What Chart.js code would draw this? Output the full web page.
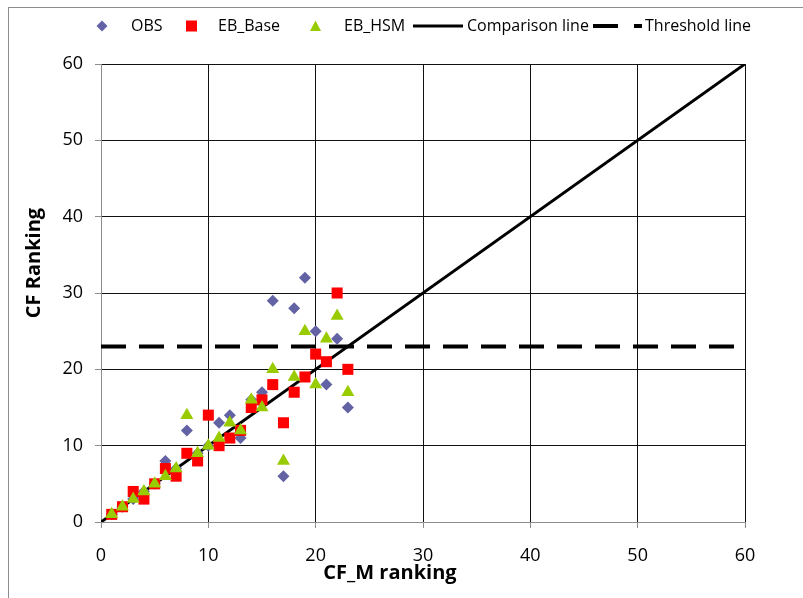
<!DOCTYPE html>
<html>
<head>
<meta charset="utf-8">
<title>CF Ranking</title>
<script src="https://cdn.jsdelivr.net/npm/chart.js@4.4.0/dist/chart.umd.min.js"></script>
<style>
  html, body { margin: 0; padding: 0; background: #fff; }
  #wrap { width: 803px; height: 598px; }
</style>
</head>
<body>
<div id="wrap"><canvas id="cfChart" width="803" height="598"></canvas></div>
<script>
// CF_M ranking (x) for every site
const cfmRank = [1, 2, 3, 4, 5, 6, 7, 8, 9, 10, 11, 12, 13, 14, 15, 16, 17, 18, 19, 20, 21, 22, 23];
// CF ranking per method (y)
const obsRank  = [1, 2, 3, 4, 5, 8, 7, 12, 9, 10, 13, 14, 11, 16, 17, 29, 6, 28, 32, 25, 18, 24, 15];
const baseRank = [1, 2, 4, 3, 5, 7, 6, 9, 8, 14, 10, 11, 12, 15, 16, 18, 13, 17, 19, 22, 21, 30, 20];
const hsmRank  = [1, 2, 3, 4, 5, 6, 7, 14, 9, 10, 11, 13, 12, 16, 15, 20, 8, 19, 25, 18, 24, 27, 17];

// reference lines
const comparisonX = [0, 60];
const comparisonY = [0, 60];
const thresholdX = [0, 60];
const thresholdValue = 23;

// axis ticks
const tickValues = [0, 10, 20, 30, 40, 50, 60];

const seriesNames = ['OBS', 'EB_Base', 'EB_HSM', 'Comparison line', 'Threshold line'];

const toPoints = (xs, ys) => xs.map((x, i) => ({ x: x, y: ys[i] }));

Chart.defaults.font.family = '"Open Sans", "DejaVu Sans", sans-serif';
Chart.defaults.color = '#000';

// legend, axis titles and outer frame drawn on the canvas
const decorations = {
    id: 'decorations',
    beforeDraw(chart) {
        const ctx = chart.ctx;
        ctx.save();
        ctx.fillStyle = '#fff';
        ctx.fillRect(0, 0, chart.width, chart.height);
        ctx.strokeStyle = '#8c8c8c';
        ctx.lineWidth = 1;
        ctx.strokeRect(8.5, 7.5, 1000, 1000);
        ctx.restore();
    },
    afterDraw(chart) {
        const ctx = chart.ctx;
        const ds = chart.data.datasets;
        const y = 26;
        ctx.save();
        ctx.font = '16px "Open Sans", sans-serif';
        ctx.textBaseline = 'middle';
        ctx.textAlign = 'left';

        // OBS diamond
        ctx.fillStyle = ds[0].backgroundColor;
        ctx.beginPath();
        ctx.moveTo(102, y - 5.5); ctx.lineTo(107.5, y); ctx.lineTo(102, y + 5.5); ctx.lineTo(96.5, y);
        ctx.closePath(); ctx.fill();
        ctx.fillStyle = '#000';
        ctx.fillText(ds[0].label, 131, y);

        // EB_Base square
        ctx.fillStyle = ds[1].backgroundColor;
        ctx.fillRect(186, y - 5.5, 11, 11);
        ctx.fillStyle = '#000';
        ctx.fillText(ds[1].label, 218, y);

        // EB_HSM triangle
        ctx.fillStyle = ds[2].backgroundColor;
        ctx.beginPath();
        ctx.moveTo(315.5, y - 5.5); ctx.lineTo(321, y + 5); ctx.lineTo(310, y + 5);
        ctx.closePath(); ctx.fill();
        ctx.fillStyle = '#000';
        ctx.fillText(ds[2].label, 344, y);

        // comparison line
        ctx.strokeStyle = ds[3].borderColor;
        ctx.lineWidth = 3;
        ctx.beginPath(); ctx.moveTo(413, y); ctx.lineTo(463, y); ctx.stroke();
        ctx.fillText(ds[3].label, 467, y);

        // threshold line
        ctx.lineWidth = 4;
        ctx.beginPath(); ctx.moveTo(593, y); ctx.lineTo(618, y); ctx.stroke();
        ctx.beginPath(); ctx.moveTo(634, y); ctx.lineTo(642, y); ctx.stroke();
        ctx.fillText(ds[4].label, 645, y);

        // axis titles
        ctx.font = 'bold 20px "Open Sans", sans-serif';
        ctx.textAlign = 'center';
        ctx.textBaseline = 'alphabetic';
        ctx.fillText('CF_M ranking', 390, 579);
        ctx.translate(40, 263);
        ctx.rotate(-Math.PI / 2);
        ctx.fillText('CF Ranking', 0, 0);
        ctx.restore();
    }
};

const axisOptions = (fitKey, fitSize, pad) => ({
    type: 'linear',
    min: 0,
    max: 60,
    afterBuildTicks: (scale) => { scale.ticks = tickValues.map(v => ({ value: v })); },
    afterFit: (scale) => { scale[fitKey] = fitSize; },
    ticks: {
        font: { size: 18 },
        color: '#000',
        padding: pad
    },
    grid: {
        color: (c) => (c.tick && c.tick.value === 0 ? 'rgba(0,0,0,0)' : '#111'),
        lineWidth: 1,
        tickLength: 6,
        tickColor: '#8c8c8c'
    },
    border: { color: '#8c8c8c', width: 1 }
});

const cfChart = new Chart(document.getElementById('cfChart'), {
    type: 'scatter',
    data: {
        datasets: [{
            label: seriesNames[0],
            data: toPoints(cfmRank, obsRank),
            pointStyle: 'rectRot',
            pointRadius: 6,
            backgroundColor: '#6262A4',
            borderColor: '#6262A4',
            borderWidth: 0,
            order: 3
        }, {
            label: seriesNames[1],
            data: toPoints(cfmRank, baseRank),
            pointStyle: 'rect',
            pointRadius: 7.8,
            backgroundColor: '#FF0000',
            borderColor: '#FF0000',
            borderWidth: 0,
            order: 2
        }, {
            label: seriesNames[2],
            data: toPoints(cfmRank, hsmRank),
            pointStyle: 'triangle',
            pointRadius: 7.5,
            backgroundColor: '#99CC00',
            borderColor: '#99CC00',
            borderWidth: 0,
            order: 1
        }, {
            type: 'line',
            label: seriesNames[3],
            data: toPoints(comparisonX, comparisonY),
            borderColor: '#000',
            borderWidth: 3,
            pointRadius: 0,
            showLine: true,
            fill: false,
            order: 5
        }, {
            type: 'line',
            label: seriesNames[4],
            data: thresholdX.map(x => ({ x: x, y: thresholdValue })),
            borderColor: '#000',
            borderWidth: 4,
            borderDash: [25, 13],
            borderCapStyle: 'butt',
            pointRadius: 0,
            showLine: true,
            fill: false,
            order: 4
        }]
    },
    options: {
        responsive: false,
        animation: false,
        devicePixelRatio: 1,
        layout: { padding: { top: 64, right: 58, left: 0, bottom: 0 } },
        plugins: {
            legend: { display: false },
            tooltip: { enabled: false }
        },
        scales: {
            x: axisOptions('height', 76, 17),
            y: axisOptions('width', 101, 12)
        }
    },
    plugins: [decorations]
});
</script>
</body>
</html>
